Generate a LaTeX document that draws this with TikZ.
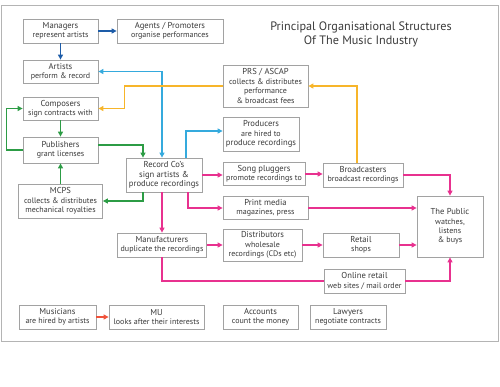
\documentclass[tikz,border=0pt]{standalone}
\usepackage{fontspec}
\setmainfont{PT Sans}
\usepackage{xcolor}
\usetikzlibrary{arrows.meta, positioning}

\definecolor{txtgray}{HTML}{3A3A3A}
\definecolor{boxgray}{HTML}{A2A2A2}
\definecolor{framegray}{HTML}{B4B4B4}
\definecolor{mgrblue}{HTML}{1D5CA8}
\definecolor{recblue}{HTML}{35AADD}
\definecolor{feeyellow}{HTML}{F7B52A}
\definecolor{pubgreen}{HTML}{2C9C45}
\definecolor{salepink}{HTML}{E8318F}
\definecolor{unionred}{HTML}{F0523A}

\newcommand{\sm}{\fontsize{8}{8.6}\selectfont}

\begin{document}
\begin{tikzpicture}[
    x=1pt, y=-1pt,
    box/.style={
        rectangle, draw=boxgray, fill=white, thick,
        text=txtgray, inner sep=1pt,
        font=\fontsize{8.6}{9.4}\selectfont,
        align=center
    },
    arrow/.style={-{Triangle[length=5pt,width=5pt]}, line width=1.1pt},
    mgrline/.style={arrow, draw=mgrblue},
    recline/.style={arrow, draw=recblue},
    feeline/.style={arrow, draw=feeyellow},
    publine/.style={arrow, draw=pubgreen},
    saleline/.style={arrow, draw=salepink},
    mu/.style={arrow, draw=unionred},
]
\useasboundingbox (0,0) rectangle (500,386);
\draw[framegray, thick] (1,5) rectangle (498,341);

%% Titolo
\node[text=txtgray, font=\fontsize{12.2}{13.4}\selectfont, align=center] (title) at (361,34.5)
    {Principal Organisational Structures\\Of The Music Industry};

%% Colonna sinistra
\node[box, minimum width=75pt, minimum height=24pt] (man) at (60.5,31) {Managers\\\sm represent artists};
\node[box, minimum width=106pt, minimum height=24pt] (agt) at (170,31) {Agents / Promoters\\\sm organise performances};
\node[box, minimum width=75pt, minimum height=23pt] (art) at (60.5,71.5) {Artists\\\sm perform \& record};
\node[box, minimum width=75pt, minimum height=23pt] (comp) at (60.5,108.5) {Composers\\\sm sign contracts with};
\node[box, minimum width=75pt, minimum height=26pt] (publ) at (60.5,150) {Publishers\\\sm grant licenses};
\node[box, minimum width=84pt, minimum height=34pt] (mcps) at (60.5,201) {MCPS\\\sm collects \& distributes\\\sm mechanical royalties};

%% Centro
\node[box, minimum width=76pt, minimum height=34pt] (rec) at (164,175) {Record Co's\\sign artists \&\\produce recordings};
\node[box, minimum width=85pt, minimum height=42pt] (prs) at (265.5,86) {PRS / ASCAP\\\sm collects \& distributes\\\sm performance\\\sm \& broadcast fees};
\node[box, minimum width=76pt, minimum height=34pt] (prod) at (261,134) {Producers\\\sm are hired to\\produce recordings};
\node[box, minimum width=82pt, minimum height=23pt] (song) at (264,174) {Song pluggers\\\sm promote recordings to};
\node[box, minimum width=85pt, minimum height=23pt] (print) at (265.5,208) {Print media\\\sm magazines, press};
\node[box, minimum width=80pt, minimum height=24pt] (brd) at (363,175) {Broadcasters\\\sm broadcast recordings};
\node[box, minimum width=66pt, minimum height=61pt] (pub) at (450,226.5) {The Public\\\sm watches,\\\sm listens\\\sm \& buys};

%% Distribuzione
\node[box, minimum width=89pt, minimum height=24pt] (manu) at (162,245) {Manufacturers\\\sm duplicate the recordings};
\node[box, minimum width=79pt, minimum height=32pt] (dist) at (262.5,245) {Distributors\\\sm wholesale\\\sm recordings (CDs etc)};
\node[box, minimum width=76pt, minimum height=24pt] (ret) at (361,245) {Retail\\\sm shops};
\node[box, minimum width=81pt, minimum height=24pt] (onl) at (364.5,281) {Online retail\\\sm web sites / mail order};

%% Riga in basso
\node[box, minimum width=77pt, minimum height=24pt] (mus) at (57.5,317) {Musicians\\\sm are hired by artists};
\node[box, minimum width=95pt, minimum height=24pt] (mun) at (156.5,317) {MU\\\sm looks after their interests};
\node[box, minimum width=75pt, minimum height=24pt] (acc) at (260.5,317) {Accounts\\\sm count the money};
\node[box, minimum width=76pt, minimum height=24pt] (law) at (348,317) {Lawyers\\\sm negotiate contracts};

%% Frecce managers
\draw[mgrline] (man) -- (agt);
\draw[mgrline] (man) -- (art);

%% Frecce record co's (azzurro)
\draw[recline, {Triangle[length=5pt,width=5pt]}-{Triangle[length=5pt,width=5pt]}] (art.east) -| ([xshift=-2pt]rec.north);
\draw[recline] ([xshift=22pt]rec.north) |- ([yshift=3pt]prod.west);

%% Frecce diritti (giallo)
\draw[feeline] ([xshift=-6pt]brd.north) |- (prs.east);
\draw[feeline] (prs.west) -| ([xshift=26pt]comp.east) -- (comp.east);

%% Frecce editori (verde)
\draw[publine] (comp) -- (publ);
\draw[publine] (publ.west) -| ([xshift=-16pt]comp.west) -- (comp.west);
\draw[publine] (mcps.north) -- (mcps.north |- publ.south);
\draw[publine] ([yshift=5pt]publ.east) -| ([xshift=-21pt]rec.north);
\draw[publine] ([xshift=-21pt]rec.south) |- (mcps.east);

%% Frecce vendite (rosa)
\draw[saleline] (rec.east) -- (rec.east -| song.west);
\draw[saleline] ([xshift=24pt]rec.south) |- (print.west);
\draw[saleline] ([xshift=-2pt]rec.south) -- ([xshift=-2pt]rec.south |- manu.north);
\draw[saleline] (manu) -- (dist);
\draw[saleline] (dist) -- (ret);
\draw[saleline] (ret.east) -- (ret.east -| pub.west);
\draw[saleline] (print.east) -- (print.east -| pub.west);
\draw[saleline] (song) -- (song -| brd.west);
\draw[saleline] (brd.east) -| (pub.north);
\draw[salepink, line width=1.1pt] (manu.south) |- (onl.west);
\draw[saleline] (onl.east) -| (pub.south);

%% Musicisti
\draw[mu] (mus) -- (mun);

\end{tikzpicture}
\end{document}
